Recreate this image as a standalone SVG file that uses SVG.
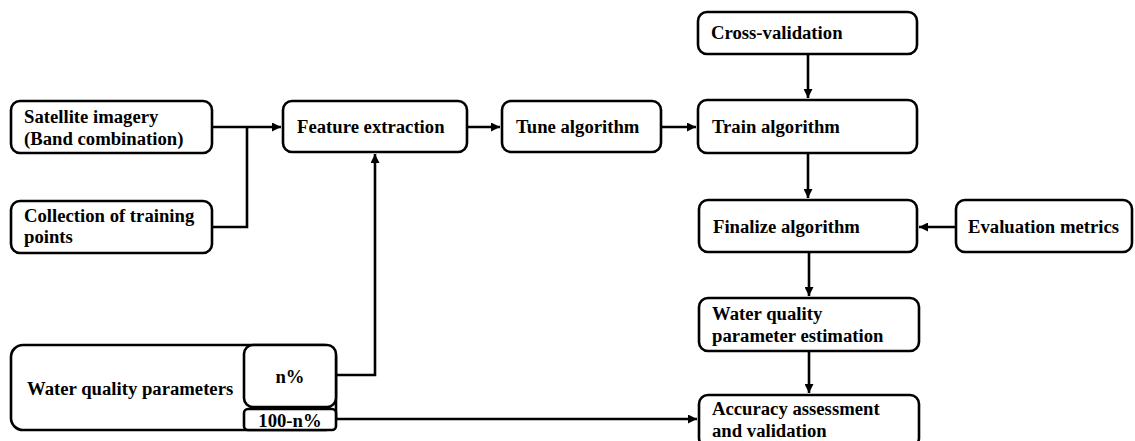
<svg xmlns="http://www.w3.org/2000/svg" width="1135" height="441" viewBox="0 0 1135 441">
<style>
.box{fill:#fff;stroke:#000;stroke-width:2.6}
.t{font-weight:bold;font-size:18.7px;fill:#000}
.c{fill:none;stroke:#000;stroke-width:2.6}
</style>
<defs>
<marker id="ah" viewBox="0 0 10 10" refX="10" refY="5" markerWidth="9" markerHeight="9" markerUnits="userSpaceOnUse" orient="auto">
<path d="M0,0 L10,5 L0,10 z" fill="#000"/>
</marker>
</defs>
<rect width="1135" height="441" fill="#fff"/>
<g font-family="Liberation Serif, serif">
<g id="satellite"><rect class="box" x="11" y="101" width="201" height="52" rx="9"/><text class="t" x="24" y="123">Satellite imagery</text><text class="t" x="24" y="145">(Band combination)</text></g>
<g id="collection"><rect class="box" x="11" y="201" width="201" height="52" rx="9"/><text class="t" x="24" y="222">Collection of training</text><text class="t" x="24" y="243">points</text></g>
<g id="feature"><rect class="box" x="283" y="101" width="184" height="51" rx="9"/><text class="t" x="297" y="133">Feature extraction</text></g>
<g id="tune"><rect class="box" x="502" y="101" width="159" height="51" rx="9"/><text class="t" x="516" y="133">Tune algorithm</text></g>
<g id="crossval"><rect class="box" x="698" y="12" width="219" height="42" rx="9"/><text class="t" x="711" y="39">Cross-validation</text></g>
<g id="train"><rect class="box" x="698" y="100" width="219" height="53" rx="9"/><text class="t" x="712" y="133">Train algorithm</text></g>
<g id="finalize"><rect class="box" x="699" y="200" width="218" height="52" rx="9"/><text class="t" x="713" y="233">Finalize algorithm</text></g>
<g id="evaluation"><rect class="box" x="956" y="200" width="176" height="52" rx="9"/><text class="t" x="968" y="233">Evaluation metrics</text></g>
<g id="estimation"><rect class="box" x="699" y="298" width="220" height="53" rx="9"/><text class="t" x="712" y="320">Water quality</text><text class="t" x="712" y="342">parameter estimation</text></g>
<g id="accuracy"><rect class="box" x="699" y="395" width="220" height="52" rx="9"/><text class="t" x="712" y="415">Accuracy assessment</text><text class="t" x="712" y="437">and validation</text></g>
<g id="wqp"><rect class="box" x="11" y="345" width="325" height="85" rx="12"/><text class="t" x="27" y="395">Water quality parameters</text>
<rect class="box" x="244" y="345" width="92" height="62" rx="9"/><text class="t" x="290" y="383" text-anchor="middle">n%</text>
<rect class="box" x="244" y="409" width="92" height="21" rx="4"/><text class="t" x="290" y="427" text-anchor="middle">100-n%</text></g>
</g>
<g id="connectors">
<path class="c" d="M212,127 H281" marker-end="url(#ah)"/>
<path class="c" d="M212,227 H247 V127"/>
<path class="c" d="M467,127 H500" marker-end="url(#ah)"/>
<path class="c" d="M661,127 H696" marker-end="url(#ah)"/>
<path class="c" d="M808,54 V98" marker-end="url(#ah)"/>
<path class="c" d="M808,153 V198" marker-end="url(#ah)"/>
<path class="c" d="M956,227 H919" marker-end="url(#ah)"/>
<path class="c" d="M809,252 V296" marker-end="url(#ah)"/>
<path class="c" d="M809,351 V393" marker-end="url(#ah)"/>
<path class="c" d="M336,375 H375 V154" marker-end="url(#ah)"/>
<path class="c" d="M336,419 H697" marker-end="url(#ah)"/>
</g>
</svg>
